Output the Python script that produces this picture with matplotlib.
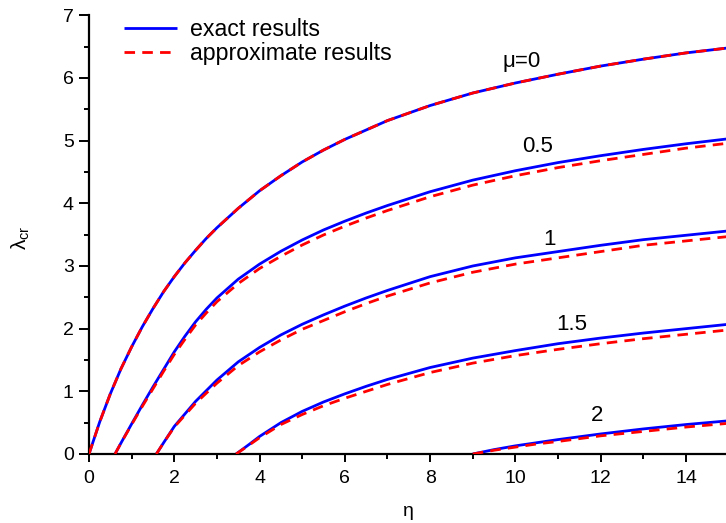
import matplotlib
matplotlib.use("Agg")
import matplotlib.pyplot as plt
from matplotlib.ticker import MultipleLocator

plt.rcParams['font.family'] = ['Liberation Sans', 'DejaVu Sans']
plt.rcParams['mathtext.fontset'] = 'custom'
plt.rcParams['mathtext.rm'] = 'Liberation Sans'
plt.rcParams['mathtext.it'] = 'Liberation Sans:italic'

# ---- data ----
mu_labels = ["\u03bc=0", "0.5", "1", "1.5", "2"]
label_x = [10.15, 10.51, 10.81, 11.32, 11.92]
label_y = [6.26, 4.90, 3.42, 2.07, 0.62]

eta_mu0 = [0, 0.25, 0.5, 0.75, 1.0, 1.25, 1.5, 1.75, 2.0, 2.25, 2.5, 2.75, 3.0, 3.5, 4.0, 4.5,
           5.0, 5.5, 6, 7, 8, 9, 10, 11, 12, 13, 14, 15]
exact_mu0 = [0, 0.51, 0.96, 1.36, 1.71, 2.03, 2.32, 2.59, 2.83, 3.05, 3.25, 3.44, 3.61, 3.92,
             4.20, 4.44, 4.66, 4.85, 5.02, 5.32, 5.56, 5.76, 5.92, 6.06, 6.19, 6.30, 6.40, 6.48]
approx_mu0 = [0, 0.51, 0.96, 1.36, 1.71, 2.03, 2.32, 2.59, 2.83, 3.05, 3.25, 3.44, 3.61, 3.92,
              4.20, 4.44, 4.66, 4.85, 5.02, 5.32, 5.56, 5.76, 5.92, 6.06, 6.19, 6.30, 6.40, 6.48]

eta_mu05 = [0.61, 0.75, 1.0, 1.25, 1.5, 1.75, 2.0, 2.25, 2.5, 2.75, 3, 3.5, 4, 4.5, 5, 5.5,
            6, 6.5, 7, 8, 9, 10, 11, 12, 13, 14, 15]
exact_mu05 = [0, 0.175, 0.48, 0.78, 1.07, 1.35, 1.63, 1.88, 2.11, 2.31, 2.49, 2.79, 3.03, 3.235,
              3.415, 3.575, 3.715, 3.845, 3.965, 4.185, 4.37, 4.52, 4.65, 4.76, 4.86, 4.95, 5.03]
approx_mu05 = [0, 0.175, 0.47, 0.76, 1.04, 1.32, 1.59, 1.83, 2.06, 2.25, 2.43, 2.72, 2.96, 3.155,
               3.335, 3.495, 3.635, 3.765, 3.885, 4.105, 4.29, 4.44, 4.57, 4.68, 4.78, 4.88, 4.96]

eta_mu1 = [1.58, 1.75, 2, 2.5, 3, 3.5, 4, 4.5, 5, 5.5, 6, 6.5, 7, 8, 9, 10, 11, 12, 13, 14, 15]
exact_mu1 = [0, 0.18, 0.44, 0.84, 1.18, 1.47, 1.70, 1.90, 2.07, 2.22, 2.36, 2.49, 2.61, 2.83,
             3.00, 3.13, 3.23, 3.33, 3.42, 3.49, 3.56]
approx_mu1 = [0, 0.18, 0.43, 0.81, 1.13, 1.41, 1.63, 1.82, 1.99, 2.13, 2.27, 2.40, 2.52, 2.73,
              2.90, 3.03, 3.13, 3.23, 3.33, 3.40, 3.47]

eta_mu15 = [3.45, 3.75, 4, 4.5, 5, 5.5, 6, 6.5, 7, 8, 9, 10, 11, 12, 13, 14, 15]
exact_mu15 = [0, 0.15, 0.28, 0.50, 0.68, 0.83, 0.96, 1.08, 1.19, 1.38, 1.53, 1.65, 1.76, 1.85,
              1.93, 2.00, 2.07]
approx_mu15 = [0, 0.14, 0.26, 0.47, 0.63, 0.77, 0.89, 1.00, 1.11, 1.30, 1.45, 1.57, 1.67, 1.76,
               1.84, 1.91, 1.98]

eta_mu2 = [9.0, 9.5, 10, 10.5, 11, 12, 13, 14, 15]
exact_mu2 = [0, 0.07, 0.13, 0.18, 0.23, 0.32, 0.40, 0.47, 0.53]
approx_mu2 = [0, 0.06, 0.11, 0.16, 0.20, 0.29, 0.36, 0.43, 0.49]

x_ticks = [0, 2, 4, 6, 8, 10, 12, 14]
y_ticks = [0, 1, 2, 3, 4, 5, 6, 7]

etas = [eta_mu0, eta_mu05, eta_mu1, eta_mu15, eta_mu2]
exacts = [exact_mu0, exact_mu05, exact_mu1, exact_mu15, exact_mu2]
approxs = [approx_mu0, approx_mu05, approx_mu1, approx_mu15, approx_mu2]

# ---- figure ----
W, H = 726, 523
fig = plt.figure(figsize=(W / 100, H / 100), dpi=100)
ax = fig.add_axes([89 / W, 1 - 454 / H, 639.6 / W, (454 - 15.3) / H])

lw = 2.0
for i, (e, ex, ap) in enumerate(zip(etas, exacts, approxs)):
    ax.plot(e, ex, color='#0000ff', lw=lw, solid_capstyle='butt', solid_joinstyle='round',
            label='exact results' if i == 0 else None, zorder=2)
    ax.plot(e, ap, color='#ff0000', lw=lw, dashes=(3.8, 2.6), dash_capstyle='butt',
            dash_joinstyle='round',
            label='approximate results' if i == 0 else None, zorder=3)

for t, x, y in zip(mu_labels, label_x, label_y):
    ax.text(x, y, t, fontsize=16, ha='center', va='center', color='black')

ax.set_xlim(0, 15)
ax.set_ylim(0, 7)
ax.set_xticks(x_ticks)
ax.set_yticks(y_ticks)
ax.xaxis.set_minor_locator(MultipleLocator(1))
ax.yaxis.set_minor_locator(MultipleLocator(0.5))
for s in ['top', 'right']:
    ax.spines[s].set_visible(False)
for s in ['left', 'bottom']:
    ax.spines[s].set_linewidth(1.6)
ax.tick_params(axis='both', which='major', direction='out', width=1.4, labelsize=14)
ax.tick_params(axis='x', which='major', length=5.8, pad=5.5)
ax.tick_params(axis='y', which='major', length=7, pad=4)
ax.tick_params(axis='both', which='minor', direction='out', width=1.4, length=3.8)

fig.text(408.8 / W, 1 - 512 / H, '\u03b7', fontsize=14, ha='center', va='center')
fig.text(21 / W, 1 - 238 / H, r'$\mathregular{\lambda_{cr}}$', fontsize=15,
         rotation=90, ha='center', va='center')

leg = ax.legend(loc='upper left', bbox_to_anchor=(124 / W, 1 - 18 / H),
                bbox_transform=fig.transFigure, frameon=False, fontsize=16.7,
                handlelength=2.29, handletextpad=0.56, labelspacing=0.05,
                borderpad=0, borderaxespad=0)

fig.savefig('out.png', dpi=100)
